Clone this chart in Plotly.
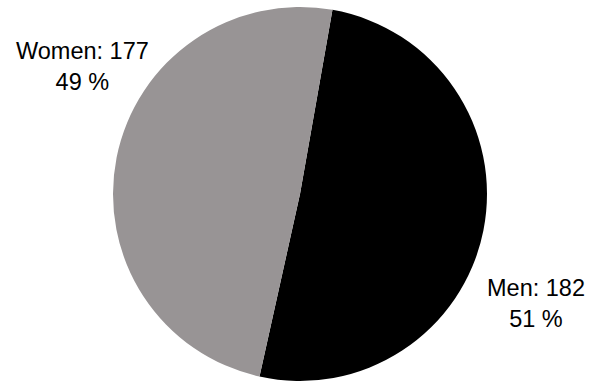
import plotly.graph_objects as go

labels = ["Men", "Women"]
values = [182, 177]
colors = ["#000000", "#989495"]

total = sum(values)
pcts = [round(v * 100 / total) for v in values]

W, H = 590, 382

fig = go.Figure(go.Pie(
    labels=labels,
    values=values,
    sort=False,
    direction="clockwise",
    rotation=10,
    marker=dict(colors=colors, line=dict(width=0)),
    textinfo="none",
    hoverinfo="label+value+percent",
    showlegend=False,
    domain=dict(x=[113 / W, 487 / W], y=[1 - 381 / H, 1 - 7 / H]),
))

label_pos = {"Women": (82, 66), "Men": (536, 303)}
for lab, v, p in zip(labels, values, pcts):
    x, y = label_pos[lab]
    fig.add_annotation(
        x=x / W, y=1 - y / H, xref="paper", yref="paper",
        text=f"{lab}: {v}<br>{p} %", showarrow=False,
        align="center", xanchor="center", yanchor="middle",
        font=dict(family="Liberation Sans, Arial", size=23.5, color="#000000"),
    )

fig.update_layout(
    width=W, height=H,
    margin=dict(l=0, r=0, t=0, b=0),
    paper_bgcolor="white", plot_bgcolor="white",
)

fig.write_html(
    "out.html",
    config={"displayModeBar": False},
    post_script="document.body.style.margin='0';document.body.style.overflow='hidden';",
)
